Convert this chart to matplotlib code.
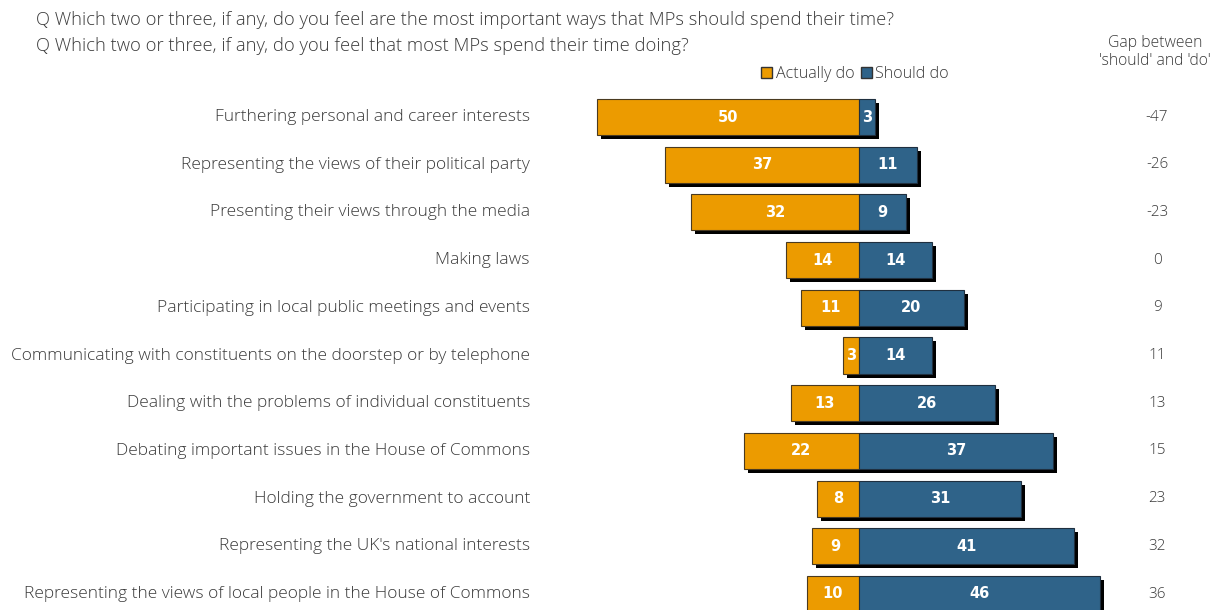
import numpy as np
import matplotlib
matplotlib.use('Agg')
import matplotlib.pyplot as plt
from matplotlib.patches import Patch

# Data
categories = [
    'Furthering personal and career interests',
    'Representing the views of their political party',
    'Presenting their views through the media',
    'Making laws',
    'Participating in local public meetings and events',
    'Communicating with constituents on the doorstep or by telephone',
    'Dealing with the problems of individual constituents',
    'Debating important issues in the House of Commons',
    'Holding the government to account',
    "Representing the UK's national interests",
    'Representing the views of local people in the House of Commons',
]
actually_do = [50, 37, 32, 14, 11, 3, 13, 22, 8, 9, 10]
should_do = [3, 11, 9, 14, 20, 14, 26, 37, 31, 41, 46]
gap = [-47, -26, -23, 0, 9, 11, 13, 15, 23, 32, 36]

q1 = 'Q Which two or three, if any, do you feel are the most important ways that MPs should spend their time?'
q2 = 'Q Which two or three, if any, do you feel that most MPs spend their time doing?'

orange = '#EC9B00'
blue = '#2F6389'
txt = '#3a3a3a'
lab_font = 'Open Sans'

W, H = 1211, 610
fig = plt.figure(figsize=(W / 100, H / 100), dpi=100)
ax = fig.add_axes([0, 0, 1, 1])
px = 5.24       # pixels per percentage point
x0 = 859        # zero line in pixels
row0, step = 117, 47.7
ax.set_xlim(-x0 / px, (W - x0) / px)
ax.set_ylim((H - row0) / step, -row0 / step)
ax.axis('off')

y = np.arange(len(categories))
h = 0.755
act = np.array(actually_do)
sho = np.array(should_do)

# drop shadows
sx, sy = 4 / px, 4 / step
ax.barh(y + sy, act + sho, left=-act + sx, height=h, color='black', zorder=1)
ax.barh(y, -act, height=h, color=orange, edgecolor='#4a3a20', linewidth=0.8, zorder=2)
ax.barh(y, sho, height=h, color=blue, edgecolor='#1f2f3f', linewidth=0.8, zorder=2)

for i in range(len(categories)):
    ax.text(-act[i] / 2, y[i], str(act[i]), color='white', fontsize=10.5,
            fontweight='bold', ha='center', va='center', zorder=3)
    ax.text(sho[i] / 2, y[i], str(sho[i]), color='white', fontsize=10.5,
            fontweight='bold', ha='center', va='center', zorder=3)
    ax.text((530 - x0) / px, y[i], categories[i], color=txt, fontsize=12.5,
            family=lab_font, fontweight='light', ha='right', va='center')
    ax.text((1157 - x0) / px, y[i], str(gap[i]), color=txt, fontsize=11,
            family=lab_font, fontweight='light', ha='center', va='center')

fig.text(36 / W, 1 - 20 / H, q1, color=txt, fontsize=13.2, family=lab_font,
         fontweight='light', va='center')
fig.text(36 / W, 1 - 46 / H, q2, color=txt, fontsize=13.2, family=lab_font,
         fontweight='light', va='center')
fig.text(1155 / W, 1 - 52 / H, "Gap between\n'should' and 'do'", color=txt, fontsize=11.3,
         family=lab_font, fontweight='light', ha='center', va='center', linespacing=1.15)

handles = [Patch(facecolor=orange, edgecolor='#333333', label='Actually do'),
           Patch(facecolor=blue, edgecolor='#333333', label='Should do')]
leg = fig.legend(handles=handles, loc='center', bbox_to_anchor=(855 / W, 1 - 74 / H), ncol=2,
                 frameon=False, handlelength=0.7, handleheight=0.7, handletextpad=0.2,
                 columnspacing=0.4, prop={'family': lab_font, 'size': 11.6, 'weight': 'light'})
for t in leg.get_texts():
    t.set_color(txt)

fig.savefig('out.png', dpi=100)
